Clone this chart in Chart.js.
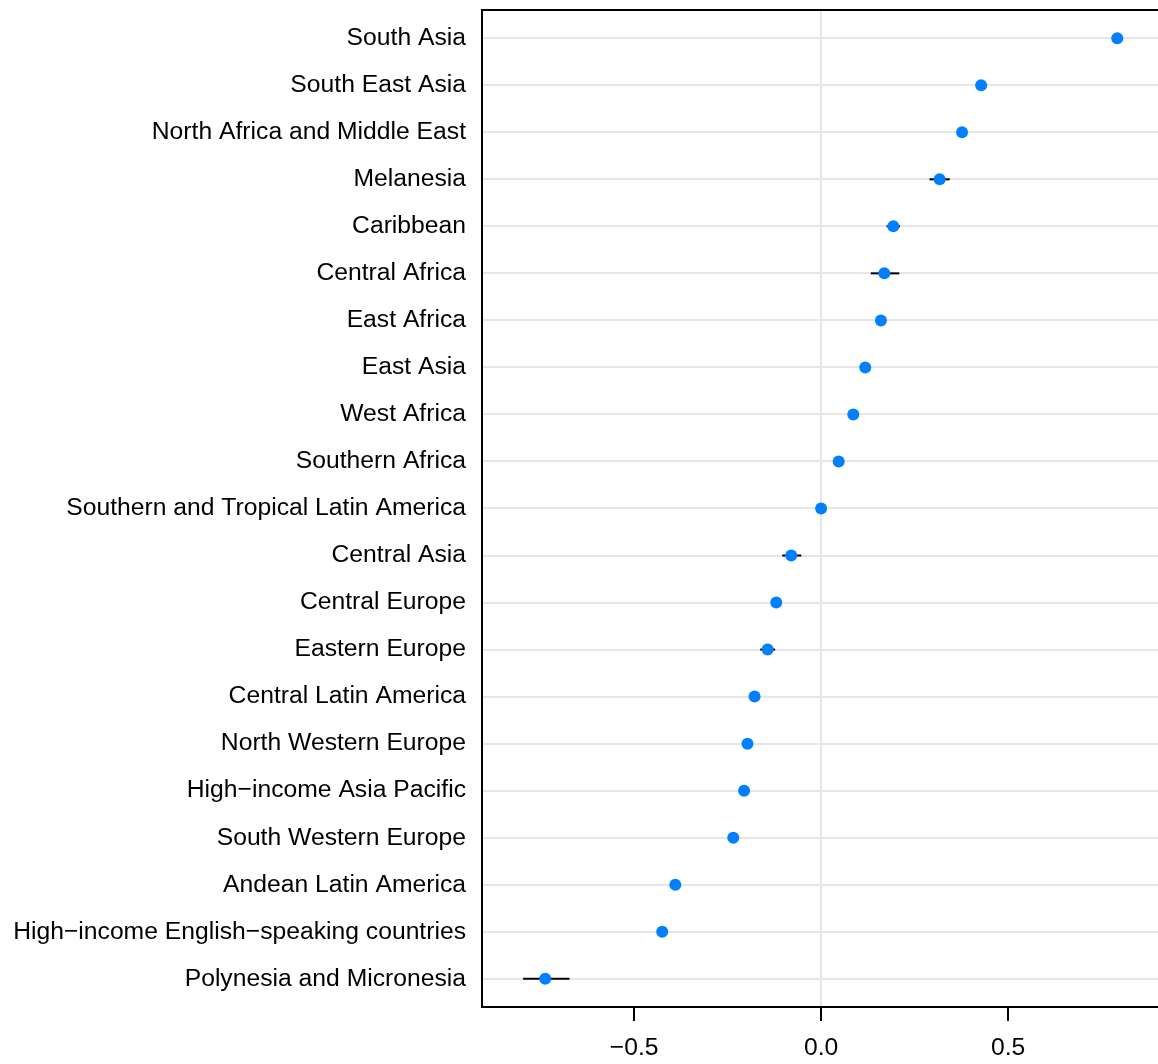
<!DOCTYPE html>
<html lang="en">
<head>
  <meta charset="UTF-8" />
  <title>Regional estimates</title>
  <script src="https://cdn.jsdelivr.net/npm/chart.js@4.4.1/dist/chart.umd.min.js"></script>
  <style>
    body {
      margin: 0;
      padding: 0;
      background: #fff;
    }
    canvas {
      display: block;
    }
  </style>
</head>
<body>
  <canvas id="dotChart" width="1158" height="1064"></canvas>

<script>
// regions, top to bottom
const regions = [
  "South Asia",
  "South East Asia",
  "North Africa and Middle East",
  "Melanesia",
  "Caribbean",
  "Central Africa",
  "East Africa",
  "East Asia",
  "West Africa",
  "Southern Africa",
  "Southern and Tropical Latin America",
  "Central Asia",
  "Central Europe",
  "Eastern Europe",
  "Central Latin America",
  "North Western Europe",
  "High\u2212income Asia Pacific",
  "South Western Europe",
  "Andean Latin America",
  "High\u2212income English\u2212speaking countries",
  "Polynesia and Micronesia"
];

// point estimates
const estimates = [0.792, 0.428, 0.377, 0.317, 0.193, 0.169, 0.160, 0.118, 0.086, 0.047,
  0.0, -0.080, -0.120, -0.143, -0.178, -0.197, -0.206, -0.235, -0.390, -0.425, -0.738];

// interval bounds
const lower = [0.782, 0.418, 0.367, 0.290, 0.175, 0.133, 0.150, 0.108, 0.076, 0.037,
  -0.010, -0.104, -0.130, -0.163, -0.188, -0.207, -0.216, -0.245, -0.400, -0.435, -0.797];
const upper = [0.802, 0.438, 0.387, 0.344, 0.211, 0.209, 0.170, 0.128, 0.096, 0.057,
  0.010, -0.053, -0.110, -0.123, -0.168, -0.187, -0.196, -0.225, -0.380, -0.415, -0.673];

const xTicks = [-0.5, 0, 0.5];

const FONT = "'Liberation Sans', Arial, sans-serif";
const GRID = '#e6e6e6';

// horizontal interval lines, drawn under the points
const errorBars = {
  id: 'errorBars',
  beforeDatasetsDraw(chart) {
    const { ctx, scales: { x, y } } = chart;
    ctx.save();
    ctx.strokeStyle = '#000';
    ctx.lineWidth = 2;
    regions.forEach((r, i) => {
      const py = y.getPixelForValue(i);
      ctx.beginPath();
      ctx.moveTo(x.getPixelForValue(lower[i]), py);
      ctx.lineTo(x.getPixelForValue(upper[i]), py);
      ctx.stroke();
    });
    ctx.restore();
  }
};

// top edge of the panel box
const topBorder = {
  id: 'topBorder',
  afterDraw(chart) {
    const { ctx, chartArea } = chart;
    ctx.save();
    ctx.strokeStyle = '#000';
    ctx.lineWidth = 2;
    ctx.beginPath();
    ctx.moveTo(chartArea.left - 1, chartArea.top);
    ctx.lineTo(chartArea.right, chartArea.top);
    ctx.stroke();
    ctx.restore();
  }
};

new Chart(document.getElementById('dotChart'), {
  type: 'scatter',
  data: {
    datasets: [{
      data: estimates.map((v, i) => ({ x: v, y: i })),
      backgroundColor: '#0080ff',
      borderWidth: 0,
      pointRadius: 6,
      pointHoverRadius: 6
    }]
  },
  options: {
    responsive: false,
    animation: false,
    layout: { autoPadding: false, padding: { top: 10, right: 0, bottom: 0, left: 0 } },
    plugins: {
      legend: { display: false },
      tooltip: { enabled: false }
    },
    scales: {
      x: {
        type: 'linear',
        min: -0.907,
        max: 0.901,
        afterBuildTicks: s => { s.ticks = xTicks.map(v => ({ value: v })); },
        afterFit: s => { s.height = 57; s.paddingLeft = 0; s.paddingRight = 0; },
        border: { display: true, color: '#000', width: 2 },
        grid: {
          color: c => (c.tick && c.tick.value === 0 ? GRID : 'rgba(0,0,0,0)'),
          lineWidth: 2,
          drawTicks: true,
          tickLength: 14,
          tickColor: '#000',
          tickWidth: 2
        },
        ticks: {
          padding: 12,
          color: '#000',
          font: { family: FONT, size: 24.7 },
          maxRotation: 0,
          callback: v => v.toFixed(1).replace('-', '\u2212')
        }
      },
      y: {
        type: 'linear',
        reverse: true,
        min: -0.6,
        max: 20.6,
        afterBuildTicks: s => { s.ticks = regions.map((r, i) => ({ value: i })); },
        afterFit: s => { s.width = 482; s.paddingTop = 0; s.paddingBottom = 0; },
        border: { display: true, color: '#000', width: 2 },
        grid: {
          color: GRID,
          lineWidth: 2,
          drawTicks: false
        },
        ticks: {
          padding: 16,
          color: '#000',
          font: { family: FONT, size: 24.7 },
          autoSkip: false,
          callback: (v) => regions[v]
        }
      }
    }
  },
  plugins: [errorBars, topBorder]
});
</script>
</body>
</html>
